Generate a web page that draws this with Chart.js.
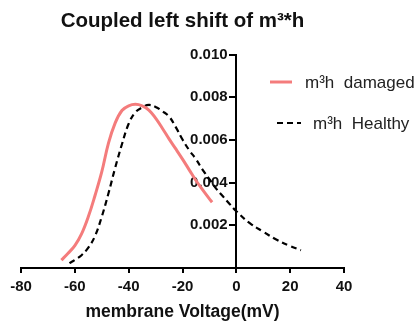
<!DOCTYPE html>
<html>
<head>
<meta charset="utf-8">
<script src="https://cdn.jsdelivr.net/npm/chart.js@4.4.0/dist/chart.umd.min.js"></script>
<style>
  html, body { margin: 0; padding: 0; background: #fff; }
  #chart { display: block; }
</style>
</head>
<body>
<canvas id="chart" width="420" height="324"></canvas>
<script>
// values
const damagedV = [-65, -62.5, -60, -57.5, -55, -52.5, -50, -47.5, -45, -42.5, -40, -37.5, -35, -32.5, -30, -27.5, -25, -22.5, -20, -17.5, -15, -12.5, -10, -9];
const damagedY = [0.00037, 0.00069, 0.00105, 0.00160, 0.00240, 0.00340, 0.00450, 0.00585, 0.00680, 0.00738, 0.00760, 0.00767, 0.00760, 0.00740, 0.00702, 0.00655, 0.00605, 0.00558, 0.00510, 0.00460, 0.00410, 0.00366, 0.00324, 0.00308];

const healthyV = [-62, -60, -57.5, -55, -52.5, -50, -47.5, -45, -42.5, -40, -37.5, -35, -32.5, -30, -27.5, -25, -22.5, -20, -17.5, -15, -12.5, -10, -7.5, -5, -2.5, 0, 5, 10, 15, 20, 24];
const healthyY = [0.00023, 0.00038, 0.00060, 0.00095, 0.00150, 0.00240, 0.00350, 0.00470, 0.00580, 0.00676, 0.00730, 0.00752, 0.00764, 0.00755, 0.00735, 0.00710, 0.00660, 0.00602, 0.00552, 0.00510, 0.00460, 0.00416, 0.00372, 0.00336, 0.00300, 0.00266, 0.00210, 0.00170, 0.00132, 0.00103, 0.00083];

const seriesLabels = ['m\u00B3h  damaged', 'm\u00B3h  Healthy'];
const xTicks = [-80, -60, -40, -20, 0, 20, 40];
const yTicks = [0.002, 0.004, 0.006, 0.008, 0.010];

const FONT = '"Liberation Sans", Arial, Helvetica, sans-serif';
const INK = '#111';

function toPoints(xs, ys) {
    return xs.map((x, i) => ({ x, y: ys[i] }));
}

// legend drawn inside the plot, upper right
const insideLegend = {
    id: 'insideLegend',
    afterDraw(chart, args, opts) {
        const ctx = chart.ctx;
        ctx.save();
        chart.data.datasets.forEach((ds, i) => {
            const it = opts.items[i];
            ctx.strokeStyle = ds.borderColor;
            ctx.lineWidth = ds.borderWidth;
            ctx.setLineDash(ds.borderDash || []);
            ctx.beginPath();
            ctx.moveTo(it.x0, it.y);
            ctx.lineTo(it.x1, it.y);
            ctx.stroke();
            ctx.setLineDash([]);
            ctx.fillStyle = '#222';
            ctx.font = '17px ' + FONT;
            ctx.textBaseline = 'middle';
            ctx.textAlign = 'left';
            ctx.fillText(ds.label, it.tx, it.y + 1);
        });
        ctx.restore();
    }
};

new Chart(document.getElementById('chart'), {
    type: 'line',
    data: {
        datasets: [
            {
                label: seriesLabels[0],
                data: toPoints(damagedV, damagedY),
                borderColor: '#f47c7c',
                borderWidth: 3,
                pointRadius: 0,
                tension: 0.4,
                fill: false
            },
            {
                label: seriesLabels[1],
                data: toPoints(healthyV, healthyY),
                borderColor: '#000',
                borderWidth: 2.2,
                borderDash: [6, 4],
                pointRadius: 0,
                tension: 0.4,
                fill: false
            }
        ]
    },
    options: {
        responsive: false,
        animation: false,
        layout: { padding: { left: 21, right: 76, top: 0, bottom: 1 } },
        plugins: {
            legend: { display: false },
            tooltip: { enabled: false },
            title: {
                display: true,
                fullSize: false,
                text: 'Coupled left shift of m\u00B3*h',
                color: INK,
                font: { family: FONT, size: 20.5, weight: 'bold' },
                padding: { top: 9, bottom: 21 }
            },
            insideLegend: {
                items: [
                    { x0: 270, x1: 292, tx: 305, y: 82 },
                    { x0: 277, x1: 301, tx: 313, y: 123 }
                ]
            }
        },
        scales: {
            x: {
                type: 'linear',
                min: -80,
                max: 40,
                afterBuildTicks: axis => { axis.ticks = xTicks.map(v => ({ value: v })); },
                grid: { drawOnChartArea: false, drawTicks: true, tickLength: 5, color: '#000', lineWidth: 2 },
                border: { display: true, color: '#000', width: 2 },
                ticks: { color: INK, font: { family: FONT, size: 15, weight: 'bold' }, padding: 5, maxRotation: 0 },
                title: {
                    display: true,
                    text: 'membrane Voltage(mV)',
                    color: INK,
                    font: { family: FONT, size: 17.5, weight: 'bold' },
                    padding: { top: 1, bottom: 0 }
                }
            },
            y: {
                type: 'linear',
                position: { x: 0 },
                min: 0,
                max: 0.010,
                afterBuildTicks: axis => { axis.ticks = yTicks.map(v => ({ value: v })); },
                grid: { drawOnChartArea: false, drawTicks: true, tickLength: 6, color: '#000', lineWidth: 2 },
                border: { display: true, color: '#000', width: 2 },
                ticks: {
                    color: INK,
                    font: { family: FONT, size: 15, weight: 'bold' },
                    // a centred y axis gets no tick offset, so keep the label clear of the tick mark
                    callback: v => v.toFixed(3) + '\u2002\u200A'
                }
            }
        }
    },
    plugins: [insideLegend]
});
</script>
</body>
</html>
